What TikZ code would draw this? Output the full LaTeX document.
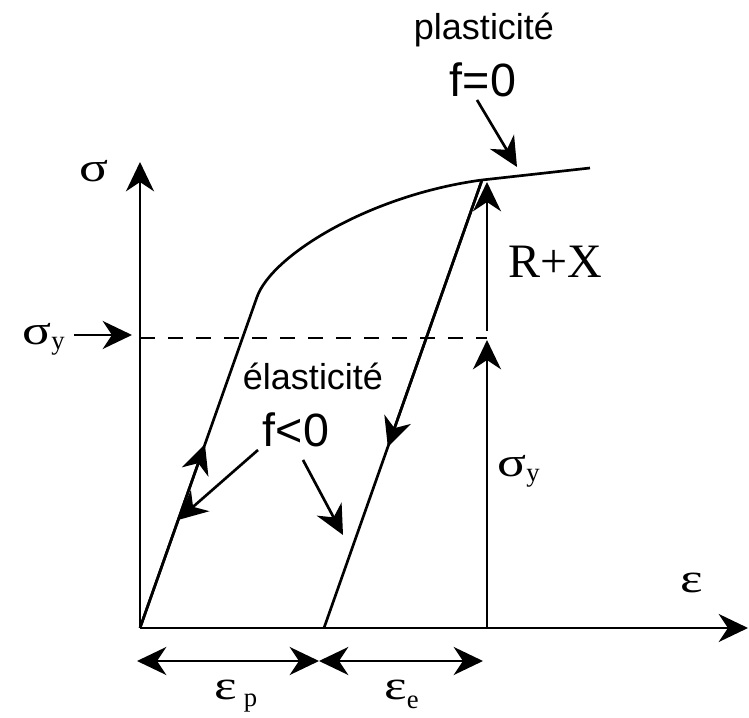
\documentclass[tikz,border=0pt]{standalone}
\usepackage{fontspec}
\setmainfont{Liberation Sans}
\newfontfamily\tnr{Liberation Serif}
\newfontfamily\tnrwide[FakeStretch=1.3]{Liberation Serif}
\usetikzlibrary{arrows.meta,calc}
\newcommand{\lowsub}[2][0.1em]{\raisebox{-#1}{\tnr\fontsize{20}{20}\selectfont #2}}

\begin{document}
\begin{tikzpicture}[x=0.75pt, y=0.75pt, line width=2pt,
  every node/.style={inner sep=0pt},
  heavy/.tip={Stealth[length=22pt, width=21pt, inset=7pt]},
  arr/.style={-heavy},
  dbl/.style={heavy-heavy},
  word/.style={font=\fontsize{27}{30}\selectfont, anchor=base},
  cond/.style={font=\fontsize{35}{40}\selectfont, anchor=base},
  grk/.style={font=\tnrwide\fontsize{31}{34}\selectfont, anchor=base west}]
\useasboundingbox (0,0) rectangle (749,717);
\coordinate (O) at (140,89);
\coordinate (ytop) at (140,555);
\coordinate (xend) at (748,89);
\coordinate (K) at (257,420);
\coordinate (P) at (482,537);
\coordinate (Pend) at (590,549);
\coordinate (B) at (324,89);
\draw[arr] (O) -- (ytop);
\draw[arr] (O) -- (xend);
\draw (O) -- (K) .. controls (272,462) and (370,522) .. (P) -- (Pend);
\draw (B) -- (P);
\draw[arr] (O) -- ($(O)!0.555!(K)$);
\draw[arr] (P) -- ($(P)!0.596!(B)$);
\coordinate (sy0) at (140,379);
\coordinate (sy1) at (487,379);
\draw[dash pattern=on 11pt off 10pt] (sy0) -- (sy1);
\coordinate (V0) at (487,89);
\coordinate (Vy) at (487,377);
\coordinate (V1) at (487,386);
\coordinate (Vtop) at (487,535);
\draw[arr] (V0) -- (Vy);
\draw[arr] (V1) -- (Vtop);
\coordinate (e0) at (137,56);
\coordinate (e1) at (319,56);
\coordinate (e2) at (483,56);
\draw[dbl] (e0) -- (e1);
\draw[dbl] (e1) -- (e2);
\node[grk] (sig) at (78,535) {σ};
\node[grk] (sigyL) at (21,372) {σ\lowsub{y}};
\coordinate (syarr) at (132,382);
\draw[arr] ([xshift=6pt]sigyL.east |- syarr) -- (syarr);
\node[grk] (sigyR) at (496,240) {σ\lowsub{y}};
\node[grk, font=\tnr\fontsize{36}{40}\selectfont] (RX) at (507,439) {R+X};
\node[grk] (eps) at (679,124) {ε};
\node[grk] (epsp) at (213,17) {ε\,\lowsub[0.16em]{p}};
\node[grk] (epse) at (383,17) {ε\lowsub[0.2em]{e}};
\node[word] (plast) at (484,677) {plasticité};
\node[cond] (feq) at (483,620) {f=0};
\coordinate (feqa) at (477,617);
\coordinate (fp) at (517,550);
\draw[arr] (feqa) -- (fp);
\node[word] (elast) at (313,327) {élasticité};
\node[cond] (fneg) at (296,270) {f<0};
\coordinate (fnl) at (258,267);
\coordinate (fnlt) at (178,197);
\coordinate (fnr) at (303,257);
\coordinate (fnrt) at (343,182);
\draw[arr] (fnl) -- (fnlt);
\draw[arr] (fnr) -- (fnrt);
\end{tikzpicture}
\end{document}
